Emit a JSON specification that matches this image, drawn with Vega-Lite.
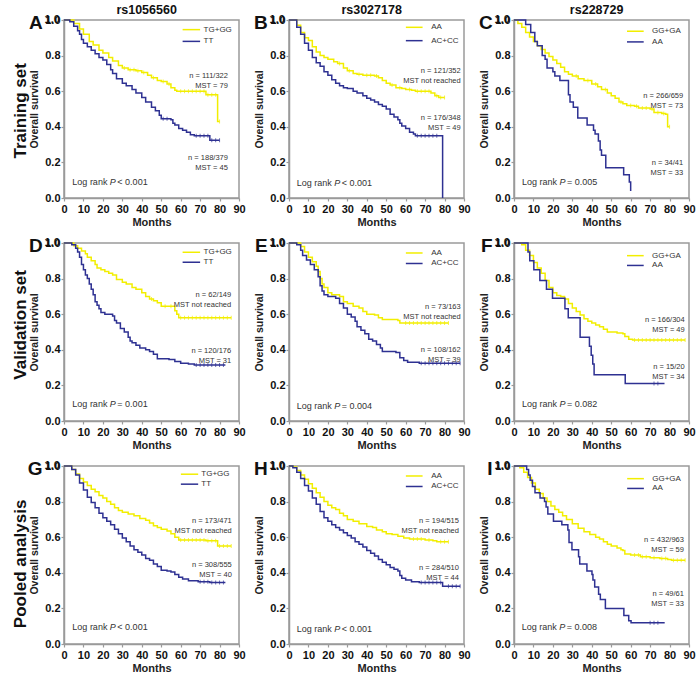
{
"$schema": "https://vega.github.io/schema/vega-lite/v6.json",
"background": "white",
"padding": {"left": 11, "top": 3, "right": 0, "bottom": 0},
"config": {
  "font": "Liberation Sans",
  "view": {"stroke": "#9a9a9a", "strokeWidth": 1.5},
  "legend": {"disable": true},
  "tick": {"orient": "vertical", "size": 4, "thickness": 1},
  "axis": {"domainColor": "#9a9a9a", "domainWidth": 1.5, "tickColor": "#9a9a9a", "tickWidth": 1.2, "tickSize": 3, "labelFont": "Liberation Sans", "labelFontSize": 11, "labelFontWeight": "bold", "labelColor": "#111", "labelPadding": 1, "titleFont": "Liberation Sans", "titleFontWeight": "bold", "titleColor": "#222", "grid": false, "labelFlush": false, "labelOverlap": false, "labelBound": false, "zindex": 1},
  "axisX": {"titlePadding": 2, "titleFontSize": 11, "labelPadding": 2, "tickCount": 10, "values": [0,10,20,30,40,50,60,70,80,90]},
  "axisY": {"titlePadding": 5, "titleFontSize": 10.5, "tickCount": 6, "values": [0,0.2,0.4,0.6,0.8,1], "format": ".1f"}
},
"datasets": {
"one": [{}],
"A": [
{"g":"TG+GG","t":0,"s":1},{"g":"TG+GG","t":3,"s":1},{"g":"TG+GG","t":5,"s":0.98},{"g":"TG+GG","t":8,"s":0.95},{"g":"TG+GG","t":10,"s":0.92},{"g":"TG+GG","t":13,"s":0.88},{"g":"TG+GG","t":15,"s":0.86},{"g":"TG+GG","t":18,"s":0.83},{"g":"TG+GG","t":20,"s":0.815},{"g":"TG+GG","t":23,"s":0.79},{"g":"TG+GG","t":25,"s":0.77},{"g":"TG+GG","t":28,"s":0.745},{"g":"TG+GG","t":30,"s":0.73},{"g":"TG+GG","t":33,"s":0.72},{"g":"TG+GG","t":37,"s":0.715},{"g":"TG+GG","t":40,"s":0.705},{"g":"TG+GG","t":43,"s":0.69},{"g":"TG+GG","t":45,"s":0.675},{"g":"TG+GG","t":48,"s":0.66},{"g":"TG+GG","t":50,"s":0.655},{"g":"TG+GG","t":53,"s":0.64},{"g":"TG+GG","t":55,"s":0.62},{"g":"TG+GG","t":57,"s":0.605},{"g":"TG+GG","t":58,"s":0.6},{"g":"TG+GG","t":73,"s":0.58},{"g":"TG+GG","t":79,"s":0.43},{"g":"TG+GG","t":80,"s":0.43},
{"g":"TT","t":0,"s":1},{"g":"TT","t":3,"s":0.99},{"g":"TT","t":5,"s":0.965},{"g":"TT","t":7,"s":0.94},{"g":"TT","t":8,"s":0.92},{"g":"TT","t":9,"s":0.89},{"g":"TT","t":10,"s":0.87},{"g":"TT","t":12,"s":0.85},{"g":"TT","t":14,"s":0.83},{"g":"TT","t":16,"s":0.81},{"g":"TT","t":18,"s":0.79},{"g":"TT","t":20,"s":0.775},{"g":"TT","t":22,"s":0.75},{"g":"TT","t":24,"s":0.72},{"g":"TT","t":25,"s":0.7},{"g":"TT","t":27,"s":0.67},{"g":"TT","t":30,"s":0.645},{"g":"TT","t":32,"s":0.63},{"g":"TT","t":35,"s":0.61},{"g":"TT","t":37,"s":0.59},{"g":"TT","t":40,"s":0.565},{"g":"TT","t":42,"s":0.54},{"g":"TT","t":45,"s":0.51},{"g":"TT","t":47,"s":0.49},{"g":"TT","t":49,"s":0.465},{"g":"TT","t":50,"s":0.445},{"g":"TT","t":55,"s":0.44},{"g":"TT","t":56,"s":0.42},{"g":"TT","t":57,"s":0.41},{"g":"TT","t":59,"s":0.39},{"g":"TT","t":61,"s":0.38},{"g":"TT","t":63,"s":0.37},{"g":"TT","t":65,"s":0.355},{"g":"TT","t":67,"s":0.35},{"g":"TT","t":75,"s":0.325},{"g":"TT","t":80,"s":0.325}
],
"Ac": [
{"g":"TG+GG","t":31,"s":0.73},{"g":"TG+GG","t":34,"s":0.72},{"g":"TG+GG","t":36,"s":0.72},{"g":"TG+GG","t":38,"s":0.715},{"g":"TG+GG","t":41,"s":0.705},{"g":"TG+GG","t":46,"s":0.675},{"g":"TG+GG","t":51,"s":0.655},{"g":"TG+GG","t":54,"s":0.64},{"g":"TG+GG","t":60,"s":0.6},{"g":"TG+GG","t":62,"s":0.6},{"g":"TG+GG","t":64,"s":0.6},{"g":"TG+GG","t":66,"s":0.6},{"g":"TG+GG","t":68,"s":0.6},{"g":"TG+GG","t":70,"s":0.6},{"g":"TG+GG","t":72,"s":0.6},{"g":"TG+GG","t":74,"s":0.58},{"g":"TG+GG","t":76,"s":0.58},{"g":"TG+GG","t":78,"s":0.58},{"g":"TG+GG","t":80,"s":0.43},
{"g":"TT","t":51,"s":0.445},{"g":"TT","t":53,"s":0.445},{"g":"TT","t":68,"s":0.35},{"g":"TT","t":70,"s":0.35},{"g":"TT","t":72,"s":0.35},{"g":"TT","t":74,"s":0.35},{"g":"TT","t":76,"s":0.325},{"g":"TT","t":78,"s":0.325},{"g":"TT","t":80,"s":0.325}
],
"B": [
{"g":"AA","t":0,"s":1},{"g":"AA","t":2,"s":1},{"g":"AA","t":4,"s":0.97},{"g":"AA","t":6,"s":0.93},{"g":"AA","t":8,"s":0.9},{"g":"AA","t":10,"s":0.885},{"g":"AA","t":12,"s":0.85},{"g":"AA","t":14,"s":0.82},{"g":"AA","t":16,"s":0.8},{"g":"AA","t":18,"s":0.79},{"g":"AA","t":20,"s":0.78},{"g":"AA","t":23,"s":0.765},{"g":"AA","t":25,"s":0.755},{"g":"AA","t":28,"s":0.73},{"g":"AA","t":30,"s":0.715},{"g":"AA","t":33,"s":0.7},{"g":"AA","t":35,"s":0.695},{"g":"AA","t":38,"s":0.69},{"g":"AA","t":44,"s":0.685},{"g":"AA","t":46,"s":0.675},{"g":"AA","t":48,"s":0.66},{"g":"AA","t":50,"s":0.645},{"g":"AA","t":52,"s":0.635},{"g":"AA","t":55,"s":0.62},{"g":"AA","t":58,"s":0.615},{"g":"AA","t":60,"s":0.61},{"g":"AA","t":63,"s":0.605},{"g":"AA","t":65,"s":0.6},{"g":"AA","t":73,"s":0.59},{"g":"AA","t":75,"s":0.575},{"g":"AA","t":77,"s":0.565},{"g":"AA","t":80,"s":0.565},
{"g":"AC+CC","t":0,"s":1},{"g":"AC+CC","t":2,"s":1},{"g":"AC+CC","t":4,"s":0.96},{"g":"AC+CC","t":6,"s":0.92},{"g":"AC+CC","t":8,"s":0.87},{"g":"AC+CC","t":10,"s":0.83},{"g":"AC+CC","t":12,"s":0.79},{"g":"AC+CC","t":14,"s":0.76},{"g":"AC+CC","t":16,"s":0.74},{"g":"AC+CC","t":18,"s":0.71},{"g":"AC+CC","t":20,"s":0.69},{"g":"AC+CC","t":22,"s":0.665},{"g":"AC+CC","t":24,"s":0.645},{"g":"AC+CC","t":26,"s":0.63},{"g":"AC+CC","t":28,"s":0.62},{"g":"AC+CC","t":30,"s":0.615},{"g":"AC+CC","t":33,"s":0.6},{"g":"AC+CC","t":35,"s":0.59},{"g":"AC+CC","t":38,"s":0.575},{"g":"AC+CC","t":40,"s":0.56},{"g":"AC+CC","t":42,"s":0.55},{"g":"AC+CC","t":44,"s":0.54},{"g":"AC+CC","t":46,"s":0.525},{"g":"AC+CC","t":48,"s":0.515},{"g":"AC+CC","t":50,"s":0.5},{"g":"AC+CC","t":52,"s":0.47},{"g":"AC+CC","t":54,"s":0.455},{"g":"AC+CC","t":56,"s":0.44},{"g":"AC+CC","t":57,"s":0.42},{"g":"AC+CC","t":58,"s":0.405},{"g":"AC+CC","t":60,"s":0.39},{"g":"AC+CC","t":62,"s":0.37},{"g":"AC+CC","t":64,"s":0.36},{"g":"AC+CC","t":65,"s":0.35},{"g":"AC+CC","t":79,"s":0}
],
"Bc": [
{"g":"AA","t":26,"s":0.755},{"g":"AA","t":31,"s":0.715},{"g":"AA","t":36,"s":0.695},{"g":"AA","t":40,"s":0.69},{"g":"AA","t":42,"s":0.69},{"g":"AA","t":45,"s":0.685},{"g":"AA","t":53,"s":0.635},{"g":"AA","t":57,"s":0.62},{"g":"AA","t":62,"s":0.61},{"g":"AA","t":66,"s":0.6},{"g":"AA","t":68,"s":0.6},{"g":"AA","t":70,"s":0.6},{"g":"AA","t":72,"s":0.6},{"g":"AA","t":76,"s":0.575},{"g":"AA","t":78,"s":0.565},{"g":"AA","t":80,"s":0.565},
{"g":"AC+CC","t":66,"s":0.35},{"g":"AC+CC","t":68,"s":0.35},{"g":"AC+CC","t":70,"s":0.35},{"g":"AC+CC","t":72,"s":0.35},{"g":"AC+CC","t":74,"s":0.35},{"g":"AC+CC","t":76,"s":0.35}
],
"C": [
{"g":"GG+GA","t":0,"s":1},{"g":"GG+GA","t":2,"s":0.98},{"g":"GG+GA","t":4,"s":0.96},{"g":"GG+GA","t":6,"s":0.93},{"g":"GG+GA","t":8,"s":0.905},{"g":"GG+GA","t":10,"s":0.88},{"g":"GG+GA","t":12,"s":0.855},{"g":"GG+GA","t":14,"s":0.835},{"g":"GG+GA","t":16,"s":0.815},{"g":"GG+GA","t":18,"s":0.795},{"g":"GG+GA","t":20,"s":0.775},{"g":"GG+GA","t":22,"s":0.755},{"g":"GG+GA","t":24,"s":0.735},{"g":"GG+GA","t":26,"s":0.71},{"g":"GG+GA","t":28,"s":0.695},{"g":"GG+GA","t":30,"s":0.685},{"g":"GG+GA","t":33,"s":0.67},{"g":"GG+GA","t":36,"s":0.66},{"g":"GG+GA","t":40,"s":0.64},{"g":"GG+GA","t":43,"s":0.625},{"g":"GG+GA","t":45,"s":0.61},{"g":"GG+GA","t":48,"s":0.59},{"g":"GG+GA","t":50,"s":0.575},{"g":"GG+GA","t":52,"s":0.56},{"g":"GG+GA","t":54,"s":0.54},{"g":"GG+GA","t":56,"s":0.53},{"g":"GG+GA","t":58,"s":0.52},{"g":"GG+GA","t":62,"s":0.515},{"g":"GG+GA","t":64,"s":0.505},{"g":"GG+GA","t":70,"s":0.5},{"g":"GG+GA","t":72,"s":0.48},{"g":"GG+GA","t":76,"s":0.475},{"g":"GG+GA","t":78,"s":0.47},{"g":"GG+GA","t":79,"s":0.4},{"g":"GG+GA","t":80,"s":0.4},
{"g":"AA","t":0,"s":1},{"g":"AA","t":6,"s":0.975},{"g":"AA","t":8.6,"s":0.93},{"g":"AA","t":10.7,"s":0.88},{"g":"AA","t":12,"s":0.855},{"g":"AA","t":14.5,"s":0.8},{"g":"AA","t":16,"s":0.78},{"g":"AA","t":17,"s":0.73},{"g":"AA","t":20,"s":0.71},{"g":"AA","t":21,"s":0.685},{"g":"AA","t":23.6,"s":0.66},{"g":"AA","t":28,"s":0.58},{"g":"AA","t":28.8,"s":0.54},{"g":"AA","t":30.5,"s":0.51},{"g":"AA","t":32.8,"s":0.45},{"g":"AA","t":37.6,"s":0.41},{"g":"AA","t":40.9,"s":0.38},{"g":"AA","t":41.7,"s":0.36},{"g":"AA","t":43.4,"s":0.32},{"g":"AA","t":44.3,"s":0.27},{"g":"AA","t":45,"s":0.24},{"g":"AA","t":47.2,"s":0.17},{"g":"AA","t":56.4,"s":0.13},{"g":"AA","t":59.3,"s":0.09},{"g":"AA","t":60,"s":0.04}
],
"Cc": [
{"g":"GG+GA","t":32,"s":0.685},{"g":"GG+GA","t":38,"s":0.66},{"g":"GG+GA","t":42,"s":0.64},{"g":"GG+GA","t":47,"s":0.61},{"g":"GG+GA","t":55,"s":0.54},{"g":"GG+GA","t":60,"s":0.52},{"g":"GG+GA","t":63,"s":0.515},{"g":"GG+GA","t":66,"s":0.505},{"g":"GG+GA","t":68,"s":0.505},{"g":"GG+GA","t":71,"s":0.5},{"g":"GG+GA","t":74,"s":0.48},{"g":"GG+GA","t":77,"s":0.475},{"g":"GG+GA","t":80,"s":0.4}
],
"D": [
{"g":"TG+GG","t":0,"s":1},{"g":"TG+GG","t":3,"s":1},{"g":"TG+GG","t":5,"s":0.985},{"g":"TG+GG","t":7,"s":0.97},{"g":"TG+GG","t":9,"s":0.955},{"g":"TG+GG","t":11,"s":0.94},{"g":"TG+GG","t":12,"s":0.92},{"g":"TG+GG","t":14,"s":0.9},{"g":"TG+GG","t":16,"s":0.88},{"g":"TG+GG","t":17,"s":0.86},{"g":"TG+GG","t":19,"s":0.85},{"g":"TG+GG","t":21,"s":0.84},{"g":"TG+GG","t":23,"s":0.83},{"g":"TG+GG","t":25,"s":0.82},{"g":"TG+GG","t":27,"s":0.795},{"g":"TG+GG","t":30,"s":0.78},{"g":"TG+GG","t":32,"s":0.77},{"g":"TG+GG","t":35,"s":0.75},{"g":"TG+GG","t":37,"s":0.74},{"g":"TG+GG","t":40,"s":0.72},{"g":"TG+GG","t":42,"s":0.7},{"g":"TG+GG","t":44,"s":0.685},{"g":"TG+GG","t":46,"s":0.675},{"g":"TG+GG","t":48,"s":0.665},{"g":"TG+GG","t":50,"s":0.645},{"g":"TG+GG","t":57,"s":0.62},{"g":"TG+GG","t":58,"s":0.6},{"g":"TG+GG","t":59,"s":0.58},{"g":"TG+GG","t":86,"s":0.58},
{"g":"TT","t":0,"s":1},{"g":"TT","t":4,"s":0.99},{"g":"TT","t":6,"s":0.97},{"g":"TT","t":7,"s":0.95},{"g":"TT","t":8,"s":0.92},{"g":"TT","t":9,"s":0.88},{"g":"TT","t":10,"s":0.85},{"g":"TT","t":11,"s":0.82},{"g":"TT","t":12,"s":0.8},{"g":"TT","t":13,"s":0.77},{"g":"TT","t":14,"s":0.74},{"g":"TT","t":15,"s":0.71},{"g":"TT","t":16,"s":0.67},{"g":"TT","t":17,"s":0.65},{"g":"TT","t":18,"s":0.63},{"g":"TT","t":19,"s":0.61},{"g":"TT","t":21,"s":0.6},{"g":"TT","t":25,"s":0.59},{"g":"TT","t":26,"s":0.565},{"g":"TT","t":27,"s":0.55},{"g":"TT","t":29,"s":0.52},{"g":"TT","t":31,"s":0.5},{"g":"TT","t":33,"s":0.47},{"g":"TT","t":34,"s":0.45},{"g":"TT","t":35,"s":0.44},{"g":"TT","t":37,"s":0.425},{"g":"TT","t":39,"s":0.41},{"g":"TT","t":42,"s":0.4},{"g":"TT","t":44,"s":0.39},{"g":"TT","t":46,"s":0.375},{"g":"TT","t":48,"s":0.35},{"g":"TT","t":54,"s":0.345},{"g":"TT","t":57,"s":0.335},{"g":"TT","t":60,"s":0.325},{"g":"TT","t":64,"s":0.32},{"g":"TT","t":67,"s":0.315},{"g":"TT","t":83,"s":0.315}
],
"Dc": [
{"g":"TG+GG","t":45,"s":0.685},{"g":"TG+GG","t":52,"s":0.645},{"g":"TG+GG","t":55,"s":0.645},{"g":"TG+GG","t":60,"s":0.58},{"g":"TG+GG","t":62,"s":0.58},{"g":"TG+GG","t":64,"s":0.58},{"g":"TG+GG","t":66,"s":0.58},{"g":"TG+GG","t":68,"s":0.58},{"g":"TG+GG","t":70,"s":0.58},{"g":"TG+GG","t":72,"s":0.58},{"g":"TG+GG","t":74,"s":0.58},{"g":"TG+GG","t":76,"s":0.58},{"g":"TG+GG","t":78,"s":0.58},{"g":"TG+GG","t":80,"s":0.58},{"g":"TG+GG","t":82,"s":0.58},{"g":"TG+GG","t":84,"s":0.58},{"g":"TG+GG","t":86,"s":0.58},
{"g":"TT","t":68,"s":0.315},{"g":"TT","t":70,"s":0.315},{"g":"TT","t":72,"s":0.315},{"g":"TT","t":74,"s":0.315},{"g":"TT","t":76,"s":0.315},{"g":"TT","t":78,"s":0.315},{"g":"TT","t":80,"s":0.315},{"g":"TT","t":82,"s":0.315}
],
"E": [
{"g":"AA","t":0,"s":1},{"g":"AA","t":5,"s":1},{"g":"AA","t":6,"s":0.98},{"g":"AA","t":8,"s":0.95},{"g":"AA","t":10,"s":0.92},{"g":"AA","t":12,"s":0.895},{"g":"AA","t":14,"s":0.87},{"g":"AA","t":15,"s":0.84},{"g":"AA","t":16,"s":0.8},{"g":"AA","t":17,"s":0.77},{"g":"AA","t":18,"s":0.75},{"g":"AA","t":20,"s":0.72},{"g":"AA","t":22,"s":0.71},{"g":"AA","t":26,"s":0.7},{"g":"AA","t":28,"s":0.67},{"g":"AA","t":30,"s":0.66},{"g":"AA","t":33,"s":0.645},{"g":"AA","t":36,"s":0.635},{"g":"AA","t":38,"s":0.615},{"g":"AA","t":40,"s":0.6},{"g":"AA","t":44,"s":0.595},{"g":"AA","t":46,"s":0.58},{"g":"AA","t":48,"s":0.57},{"g":"AA","t":56,"s":0.565},{"g":"AA","t":57,"s":0.55},{"g":"AA","t":82,"s":0.55},
{"g":"AC+CC","t":0,"s":1},{"g":"AC+CC","t":4,"s":0.99},{"g":"AC+CC","t":6,"s":0.96},{"g":"AC+CC","t":7,"s":0.93},{"g":"AC+CC","t":9,"s":0.905},{"g":"AC+CC","t":11,"s":0.88},{"g":"AC+CC","t":13,"s":0.85},{"g":"AC+CC","t":15,"s":0.81},{"g":"AC+CC","t":16,"s":0.76},{"g":"AC+CC","t":17,"s":0.73},{"g":"AC+CC","t":18,"s":0.71},{"g":"AC+CC","t":20,"s":0.7},{"g":"AC+CC","t":24,"s":0.69},{"g":"AC+CC","t":26,"s":0.66},{"g":"AC+CC","t":28,"s":0.635},{"g":"AC+CC","t":30,"s":0.6},{"g":"AC+CC","t":32,"s":0.585},{"g":"AC+CC","t":34,"s":0.56},{"g":"AC+CC","t":35,"s":0.53},{"g":"AC+CC","t":37,"s":0.51},{"g":"AC+CC","t":39,"s":0.49},{"g":"AC+CC","t":41,"s":0.46},{"g":"AC+CC","t":43,"s":0.45},{"g":"AC+CC","t":45,"s":0.43},{"g":"AC+CC","t":47,"s":0.41},{"g":"AC+CC","t":48,"s":0.39},{"g":"AC+CC","t":55,"s":0.385},{"g":"AC+CC","t":57,"s":0.355},{"g":"AC+CC","t":59,"s":0.34},{"g":"AC+CC","t":61,"s":0.33},{"g":"AC+CC","t":67,"s":0.325},{"g":"AC+CC","t":88,"s":0.325}
],
"Ec": [
{"g":"AA","t":60,"s":0.55},{"g":"AA","t":62,"s":0.55},{"g":"AA","t":64,"s":0.55},{"g":"AA","t":66,"s":0.55},{"g":"AA","t":68,"s":0.55},{"g":"AA","t":70,"s":0.55},{"g":"AA","t":72,"s":0.55},{"g":"AA","t":74,"s":0.55},{"g":"AA","t":76,"s":0.55},{"g":"AA","t":78,"s":0.55},{"g":"AA","t":80,"s":0.55},{"g":"AA","t":82,"s":0.55},
{"g":"AC+CC","t":68,"s":0.325},{"g":"AC+CC","t":70,"s":0.325},{"g":"AC+CC","t":72,"s":0.325},{"g":"AC+CC","t":74,"s":0.325},{"g":"AC+CC","t":76,"s":0.325},{"g":"AC+CC","t":78,"s":0.325},{"g":"AC+CC","t":80,"s":0.325},{"g":"AC+CC","t":82,"s":0.325},{"g":"AC+CC","t":84,"s":0.325},{"g":"AC+CC","t":86,"s":0.325},{"g":"AC+CC","t":88,"s":0.325}
],
"F": [
{"g":"GG+GA","t":0,"s":1},{"g":"GG+GA","t":4,"s":0.99},{"g":"GG+GA","t":6,"s":0.96},{"g":"GG+GA","t":8,"s":0.93},{"g":"GG+GA","t":10,"s":0.89},{"g":"GG+GA","t":12,"s":0.86},{"g":"GG+GA","t":14,"s":0.83},{"g":"GG+GA","t":16,"s":0.79},{"g":"GG+GA","t":18,"s":0.75},{"g":"GG+GA","t":20,"s":0.72},{"g":"GG+GA","t":22,"s":0.705},{"g":"GG+GA","t":24,"s":0.7},{"g":"GG+GA","t":26,"s":0.685},{"g":"GG+GA","t":28,"s":0.66},{"g":"GG+GA","t":30,"s":0.635},{"g":"GG+GA","t":32,"s":0.615},{"g":"GG+GA","t":34,"s":0.595},{"g":"GG+GA","t":36,"s":0.575},{"g":"GG+GA","t":38,"s":0.56},{"g":"GG+GA","t":40,"s":0.55},{"g":"GG+GA","t":42,"s":0.54},{"g":"GG+GA","t":44,"s":0.53},{"g":"GG+GA","t":46,"s":0.515},{"g":"GG+GA","t":48,"s":0.5},{"g":"GG+GA","t":53,"s":0.495},{"g":"GG+GA","t":56,"s":0.49},{"g":"GG+GA","t":57,"s":0.475},{"g":"GG+GA","t":59,"s":0.46},{"g":"GG+GA","t":61,"s":0.455},{"g":"GG+GA","t":88,"s":0.455},
{"g":"AA","t":0,"s":1},{"g":"AA","t":7.2,"s":0.95},{"g":"AA","t":8.1,"s":0.9},{"g":"AA","t":10.2,"s":0.85},{"g":"AA","t":13.3,"s":0.79},{"g":"AA","t":16.7,"s":0.74},{"g":"AA","t":19.8,"s":0.69},{"g":"AA","t":26.2,"s":0.63},{"g":"AA","t":27.9,"s":0.58},{"g":"AA","t":34,"s":0.47},{"g":"AA","t":38.8,"s":0.42},{"g":"AA","t":39.7,"s":0.37},{"g":"AA","t":40.5,"s":0.32},{"g":"AA","t":41.2,"s":0.26},{"g":"AA","t":57.2,"s":0.21},{"g":"AA","t":77.4,"s":0.21}
],
"Fc": [
{"g":"GG+GA","t":62,"s":0.455},{"g":"GG+GA","t":64,"s":0.455},{"g":"GG+GA","t":66,"s":0.455},{"g":"GG+GA","t":68,"s":0.455},{"g":"GG+GA","t":70,"s":0.455},{"g":"GG+GA","t":72,"s":0.455},{"g":"GG+GA","t":74,"s":0.455},{"g":"GG+GA","t":76,"s":0.455},{"g":"GG+GA","t":78,"s":0.455},{"g":"GG+GA","t":80,"s":0.455},{"g":"GG+GA","t":82,"s":0.455},{"g":"GG+GA","t":84,"s":0.455},{"g":"GG+GA","t":86,"s":0.455},{"g":"GG+GA","t":88,"s":0.455},
{"g":"AA","t":72,"s":0.21},{"g":"AA","t":74,"s":0.21}
],
"G": [
{"g":"TG+GG","t":0,"s":1},{"g":"TG+GG","t":2,"s":1},{"g":"TG+GG","t":4,"s":0.98},{"g":"TG+GG","t":6,"s":0.955},{"g":"TG+GG","t":8,"s":0.93},{"g":"TG+GG","t":10,"s":0.91},{"g":"TG+GG","t":12,"s":0.89},{"g":"TG+GG","t":14,"s":0.87},{"g":"TG+GG","t":16,"s":0.855},{"g":"TG+GG","t":18,"s":0.835},{"g":"TG+GG","t":20,"s":0.82},{"g":"TG+GG","t":22,"s":0.8},{"g":"TG+GG","t":24,"s":0.785},{"g":"TG+GG","t":26,"s":0.765},{"g":"TG+GG","t":28,"s":0.75},{"g":"TG+GG","t":30,"s":0.74},{"g":"TG+GG","t":33,"s":0.73},{"g":"TG+GG","t":36,"s":0.72},{"g":"TG+GG","t":39,"s":0.705},{"g":"TG+GG","t":42,"s":0.695},{"g":"TG+GG","t":44,"s":0.68},{"g":"TG+GG","t":46,"s":0.665},{"g":"TG+GG","t":48,"s":0.655},{"g":"TG+GG","t":50,"s":0.645},{"g":"TG+GG","t":53,"s":0.635},{"g":"TG+GG","t":55,"s":0.62},{"g":"TG+GG","t":57,"s":0.6},{"g":"TG+GG","t":59,"s":0.585},{"g":"TG+GG","t":73,"s":0.58},{"g":"TG+GG","t":79,"s":0.55},{"g":"TG+GG","t":86,"s":0.55},
{"g":"TT","t":0,"s":1},{"g":"TT","t":2,"s":1},{"g":"TT","t":4,"s":0.98},{"g":"TT","t":6,"s":0.95},{"g":"TT","t":8,"s":0.905},{"g":"TT","t":10,"s":0.865},{"g":"TT","t":12,"s":0.825},{"g":"TT","t":14,"s":0.795},{"g":"TT","t":16,"s":0.765},{"g":"TT","t":18,"s":0.735},{"g":"TT","t":20,"s":0.71},{"g":"TT","t":22,"s":0.69},{"g":"TT","t":24,"s":0.67},{"g":"TT","t":26,"s":0.645},{"g":"TT","t":28,"s":0.62},{"g":"TT","t":30,"s":0.595},{"g":"TT","t":32,"s":0.575},{"g":"TT","t":34,"s":0.55},{"g":"TT","t":36,"s":0.53},{"g":"TT","t":38,"s":0.515},{"g":"TT","t":40,"s":0.5},{"g":"TT","t":42,"s":0.48},{"g":"TT","t":44,"s":0.47},{"g":"TT","t":46,"s":0.45},{"g":"TT","t":48,"s":0.435},{"g":"TT","t":50,"s":0.415},{"g":"TT","t":53,"s":0.41},{"g":"TT","t":55,"s":0.405},{"g":"TT","t":57,"s":0.39},{"g":"TT","t":59,"s":0.375},{"g":"TT","t":61,"s":0.365},{"g":"TT","t":64,"s":0.355},{"g":"TT","t":69,"s":0.35},{"g":"TT","t":75,"s":0.345},{"g":"TT","t":83,"s":0.345}
],
"Gc": [
{"g":"TG+GG","t":60,"s":0.585},{"g":"TG+GG","t":62,"s":0.585},{"g":"TG+GG","t":64,"s":0.585},{"g":"TG+GG","t":66,"s":0.585},{"g":"TG+GG","t":68,"s":0.585},{"g":"TG+GG","t":70,"s":0.585},{"g":"TG+GG","t":72,"s":0.585},{"g":"TG+GG","t":74,"s":0.58},{"g":"TG+GG","t":76,"s":0.58},{"g":"TG+GG","t":78,"s":0.58},{"g":"TG+GG","t":80,"s":0.55},{"g":"TG+GG","t":82,"s":0.55},{"g":"TG+GG","t":84,"s":0.55},{"g":"TG+GG","t":86,"s":0.55},
{"g":"TT","t":70,"s":0.35},{"g":"TT","t":72,"s":0.35},{"g":"TT","t":74,"s":0.35},{"g":"TT","t":76,"s":0.345},{"g":"TT","t":78,"s":0.345},{"g":"TT","t":80,"s":0.345},{"g":"TT","t":82,"s":0.345}
],
"H": [
{"g":"AA","t":0,"s":1},{"g":"AA","t":2,"s":0.995},{"g":"AA","t":4,"s":0.975},{"g":"AA","t":6,"s":0.95},{"g":"AA","t":8,"s":0.925},{"g":"AA","t":10,"s":0.9},{"g":"AA","t":12,"s":0.875},{"g":"AA","t":14,"s":0.85},{"g":"AA","t":16,"s":0.825},{"g":"AA","t":18,"s":0.8},{"g":"AA","t":20,"s":0.78},{"g":"AA","t":22,"s":0.765},{"g":"AA","t":24,"s":0.755},{"g":"AA","t":26,"s":0.735},{"g":"AA","t":28,"s":0.72},{"g":"AA","t":30,"s":0.7},{"g":"AA","t":33,"s":0.69},{"g":"AA","t":36,"s":0.675},{"g":"AA","t":40,"s":0.66},{"g":"AA","t":43,"s":0.655},{"g":"AA","t":45,"s":0.64},{"g":"AA","t":48,"s":0.63},{"g":"AA","t":50,"s":0.62},{"g":"AA","t":53,"s":0.615},{"g":"AA","t":56,"s":0.605},{"g":"AA","t":59,"s":0.595},{"g":"AA","t":62,"s":0.59},{"g":"AA","t":70,"s":0.585},{"g":"AA","t":74,"s":0.58},{"g":"AA","t":76,"s":0.575},{"g":"AA","t":82,"s":0.575},
{"g":"AC+CC","t":0,"s":1},{"g":"AC+CC","t":2,"s":0.99},{"g":"AC+CC","t":4,"s":0.965},{"g":"AC+CC","t":6,"s":0.93},{"g":"AC+CC","t":8,"s":0.89},{"g":"AC+CC","t":10,"s":0.86},{"g":"AC+CC","t":12,"s":0.82},{"g":"AC+CC","t":14,"s":0.785},{"g":"AC+CC","t":16,"s":0.745},{"g":"AC+CC","t":18,"s":0.71},{"g":"AC+CC","t":20,"s":0.69},{"g":"AC+CC","t":22,"s":0.67},{"g":"AC+CC","t":24,"s":0.655},{"g":"AC+CC","t":26,"s":0.64},{"g":"AC+CC","t":28,"s":0.625},{"g":"AC+CC","t":30,"s":0.61},{"g":"AC+CC","t":32,"s":0.595},{"g":"AC+CC","t":34,"s":0.575},{"g":"AC+CC","t":36,"s":0.56},{"g":"AC+CC","t":38,"s":0.545},{"g":"AC+CC","t":40,"s":0.525},{"g":"AC+CC","t":42,"s":0.51},{"g":"AC+CC","t":44,"s":0.495},{"g":"AC+CC","t":46,"s":0.475},{"g":"AC+CC","t":48,"s":0.46},{"g":"AC+CC","t":50,"s":0.445},{"g":"AC+CC","t":52,"s":0.43},{"g":"AC+CC","t":54,"s":0.42},{"g":"AC+CC","t":56,"s":0.41},{"g":"AC+CC","t":57,"s":0.385},{"g":"AC+CC","t":58,"s":0.37},{"g":"AC+CC","t":60,"s":0.36},{"g":"AC+CC","t":63,"s":0.35},{"g":"AC+CC","t":67,"s":0.345},{"g":"AC+CC","t":79,"s":0.325},{"g":"AC+CC","t":88,"s":0.325}
],
"Hc": [
{"g":"AA","t":64,"s":0.59},{"g":"AA","t":66,"s":0.59},{"g":"AA","t":68,"s":0.59},{"g":"AA","t":72,"s":0.585},{"g":"AA","t":78,"s":0.575},{"g":"AA","t":80,"s":0.575},{"g":"AA","t":82,"s":0.575},
{"g":"AC+CC","t":68,"s":0.345},{"g":"AC+CC","t":70,"s":0.345},{"g":"AC+CC","t":72,"s":0.345},{"g":"AC+CC","t":74,"s":0.345},{"g":"AC+CC","t":76,"s":0.345},{"g":"AC+CC","t":78,"s":0.345},{"g":"AC+CC","t":82,"s":0.325},{"g":"AC+CC","t":84,"s":0.325},{"g":"AC+CC","t":86,"s":0.325},{"g":"AC+CC","t":88,"s":0.325}
],
"I": [
{"g":"GG+GA","t":0,"s":1},{"g":"GG+GA","t":3,"s":0.99},{"g":"GG+GA","t":5,"s":0.965},{"g":"GG+GA","t":7,"s":0.935},{"g":"GG+GA","t":9,"s":0.905},{"g":"GG+GA","t":11,"s":0.87},{"g":"GG+GA","t":13,"s":0.845},{"g":"GG+GA","t":15,"s":0.82},{"g":"GG+GA","t":17,"s":0.8},{"g":"GG+GA","t":19,"s":0.775},{"g":"GG+GA","t":21,"s":0.755},{"g":"GG+GA","t":23,"s":0.74},{"g":"GG+GA","t":25,"s":0.72},{"g":"GG+GA","t":27,"s":0.7},{"g":"GG+GA","t":30,"s":0.675},{"g":"GG+GA","t":33,"s":0.65},{"g":"GG+GA","t":36,"s":0.63},{"g":"GG+GA","t":39,"s":0.615},{"g":"GG+GA","t":42,"s":0.6},{"g":"GG+GA","t":44,"s":0.59},{"g":"GG+GA","t":46,"s":0.575},{"g":"GG+GA","t":48,"s":0.56},{"g":"GG+GA","t":50,"s":0.55},{"g":"GG+GA","t":53,"s":0.54},{"g":"GG+GA","t":55,"s":0.53},{"g":"GG+GA","t":56,"s":0.525},{"g":"GG+GA","t":57,"s":0.505},{"g":"GG+GA","t":60,"s":0.5},{"g":"GG+GA","t":65,"s":0.49},{"g":"GG+GA","t":70,"s":0.485},{"g":"GG+GA","t":75,"s":0.48},{"g":"GG+GA","t":79,"s":0.475},{"g":"GG+GA","t":81,"s":0.47},{"g":"GG+GA","t":88,"s":0.47},
{"g":"AA","t":0,"s":1},{"g":"AA","t":6.5,"s":0.98},{"g":"AA","t":7.5,"s":0.95},{"g":"AA","t":8.3,"s":0.92},{"g":"AA","t":9.5,"s":0.885},{"g":"AA","t":10.8,"s":0.85},{"g":"AA","t":13.4,"s":0.82},{"g":"AA","t":15.7,"s":0.8},{"g":"AA","t":16.5,"s":0.77},{"g":"AA","t":17.4,"s":0.73},{"g":"AA","t":20.3,"s":0.69},{"g":"AA","t":24.6,"s":0.67},{"g":"AA","t":27.7,"s":0.64},{"g":"AA","t":28.3,"s":0.57},{"g":"AA","t":29.8,"s":0.53},{"g":"AA","t":33.2,"s":0.49},{"g":"AA","t":33.8,"s":0.45},{"g":"AA","t":37.5,"s":0.41},{"g":"AA","t":40.1,"s":0.39},{"g":"AA","t":40.6,"s":0.36},{"g":"AA","t":41.5,"s":0.32},{"g":"AA","t":43.5,"s":0.28},{"g":"AA","t":44.4,"s":0.25},{"g":"AA","t":47,"s":0.2},{"g":"AA","t":56.5,"s":0.16},{"g":"AA","t":59,"s":0.13},{"g":"AA","t":60.2,"s":0.12},{"g":"AA","t":77.5,"s":0.12}
],
"Ic": [
{"g":"GG+GA","t":62,"s":0.5},{"g":"GG+GA","t":64,"s":0.5},{"g":"GG+GA","t":66,"s":0.49},{"g":"GG+GA","t":68,"s":0.49},{"g":"GG+GA","t":72,"s":0.485},{"g":"GG+GA","t":76,"s":0.48},{"g":"GG+GA","t":78,"s":0.48},{"g":"GG+GA","t":82,"s":0.47},{"g":"GG+GA","t":84,"s":0.47},{"g":"GG+GA","t":86,"s":0.47},{"g":"GG+GA","t":88,"s":0.47},
{"g":"AA","t":70,"s":0.12},{"g":"AA","t":72,"s":0.12},{"g":"AA","t":74,"s":0.12}
]
},
"columns": 3,
"spacing": {"row": 45, "column": 50},
"bounds": "flush",
"resolve": {"scale": {"color": "independent"}},
"concat": [
{"width": 175, "height": 178,
 "layer": [
  {"data": {"name": "A"}, "mark": {"type": "line", "interpolate": "step-after", "strokeWidth": 1.5},
   "encoding": {"x": {"field": "t", "type": "quantitative", "scale": {"domain": [0, 90]}, "axis": {"title": "Months"}},
    "y": {"field": "s", "type": "quantitative", "scale": {"domain": [0, 1.0001], "nice": false}, "axis": {"title": "Overall survival"}},
    "color": {"field": "g", "type": "nominal", "scale": {"domain": ["TG+GG","TT"], "range": ["#f2ee00","#2e3192"]}}}},
  {"data": {"name": "Ac"}, "mark": "tick", "encoding": {"x": {"field": "t", "type": "quantitative"}, "y": {"field": "s", "type": "quantitative"}, "color": {"field": "g", "type": "nominal"}}},
  {"data": {"name": "one"}, "mark": {"type": "rule", "strokeWidth": 1.5}, "encoding": {"x": {"datum": 61}, "x2": {"datum": 70}, "y": {"datum": 0.946}, "color": {"datum": "TG+GG"}}},
  {"data": {"name": "one"}, "mark": {"type": "rule", "strokeWidth": 1.5}, "encoding": {"x": {"datum": 61}, "x2": {"datum": 70}, "y": {"datum": 0.88}, "color": {"datum": "TT"}}},
  {"data": {"name": "one"}, "mark": {"type": "text", "fontSize": 8, "align": "left", "baseline": "middle", "color": "#333"}, "encoding": {"x": {"datum": 71.8}, "y": {"datum": 0.946}, "text": {"value": "TG+GG"}}},
  {"data": {"name": "one"}, "mark": {"type": "text", "fontSize": 8, "align": "left", "baseline": "middle", "color": "#333"}, "encoding": {"x": {"datum": 71.8}, "y": {"datum": 0.88}, "text": {"value": "TT"}}},
  {"data": {"name": "one"}, "mark": {"type": "text", "fontSize": 7.5, "align": "right", "baseline": "middle", "lineHeight": 10, "color": "#333"}, "encoding": {"x": {"datum": 84.3}, "y": {"datum": 0.686}, "text": {"value": ["n = 111/322", "MST = 79"]}}},
  {"data": {"name": "one"}, "mark": {"type": "text", "fontSize": 7.5, "align": "right", "baseline": "middle", "lineHeight": 10, "color": "#333"}, "encoding": {"x": {"datum": 84.3}, "y": {"datum": 0.225}, "text": {"value": ["n = 188/379", "MST = 45"]}}},
  {"data": {"name": "one"}, "mark": {"type": "text", "fontSize": 9, "align": "left", "baseline": "middle", "color": "#333"}, "encoding": {"x": {"datum": 4.3}, "y": {"datum": 0.088}, "text": {"value": "Log rank"}}},
  {"data": {"name": "one"}, "mark": {"type": "text", "fontSize": 9, "fontStyle": "italic", "align": "left", "baseline": "middle", "color": "#333", "dx": 37.5}, "encoding": {"x": {"datum": 4.3}, "y": {"datum": 0.088}, "text": {"value": "P"}}},
  {"data": {"name": "one"}, "mark": {"type": "text", "fontSize": 9, "align": "left", "baseline": "middle", "color": "#333", "dx": 45}, "encoding": {"x": {"datum": 4.3}, "y": {"datum": 0.088}, "text": {"value": "< 0.001"}}},
  {"data": {"name": "one"}, "mark": {"type": "text", "fontSize": 11, "fontWeight": "bold", "color": "#111", "align": "right", "baseline": "middle"}, "encoding": {"x": {"datum": -2.1}, "y": {"datum": 1}, "text": {"value": "1.0"}}},
  {"data": {"name": "one"}, "mark": {"type": "text", "fontSize": 12.5, "fontWeight": "bold", "color": "#111", "align": "center", "baseline": "middle"}, "encoding": {"x": {"datum": 42.5}, "y": {"datum": 1.056}, "text": {"value": "rs1056560"}}},
  {"data": {"name": "one"}, "mark": {"type": "text", "fontSize": 19, "fontWeight": "bold", "color": "#111", "align": "right", "baseline": "middle"}, "encoding": {"x": {"datum": -11}, "y": {"datum": 0.985}, "text": {"value": "A"}}},
  {"data": {"name": "one"}, "mark": {"type": "text", "angle": 270, "fontSize": 17, "fontWeight": "bold", "color": "#111", "align": "center", "baseline": "middle"}, "encoding": {"x": {"datum": -22}, "y": {"datum": 0.49}, "text": {"value": "Training set"}}}
 ]},
{"width": 175, "height": 178,
 "layer": [
  {"data": {"name": "B"}, "mark": {"type": "line", "interpolate": "step-after", "strokeWidth": 1.5},
   "encoding": {"x": {"field": "t", "type": "quantitative", "scale": {"domain": [0, 90]}, "axis": {"title": "Months"}},
    "y": {"field": "s", "type": "quantitative", "scale": {"domain": [0, 1.0001], "nice": false}, "axis": {"title": "Overall survival"}},
    "color": {"field": "g", "type": "nominal", "scale": {"domain": ["AA","AC+CC"], "range": ["#f2ee00","#2e3192"]}}}},
  {"data": {"name": "Bc"}, "mark": "tick", "encoding": {"x": {"field": "t", "type": "quantitative"}, "y": {"field": "s", "type": "quantitative"}, "color": {"field": "g", "type": "nominal"}}},
  {"data": {"name": "one"}, "mark": {"type": "rule", "strokeWidth": 1.5}, "encoding": {"x": {"datum": 60.1}, "x2": {"datum": 68.7}, "y": {"datum": 0.959}, "color": {"datum": "AA"}}},
  {"data": {"name": "one"}, "mark": {"type": "rule", "strokeWidth": 1.5}, "encoding": {"x": {"datum": 60.1}, "x2": {"datum": 68.7}, "y": {"datum": 0.884}, "color": {"datum": "AC+CC"}}},
  {"data": {"name": "one"}, "mark": {"type": "text", "fontSize": 8, "align": "left", "baseline": "middle", "color": "#333"}, "encoding": {"x": {"datum": 73.1}, "y": {"datum": 0.959}, "text": {"value": "AA"}}},
  {"data": {"name": "one"}, "mark": {"type": "text", "fontSize": 8, "align": "left", "baseline": "middle", "color": "#333"}, "encoding": {"x": {"datum": 73.1}, "y": {"datum": 0.884}, "text": {"value": "AC+CC"}}},
  {"data": {"name": "one"}, "mark": {"type": "text", "fontSize": 7.5, "align": "right", "baseline": "middle", "lineHeight": 10, "color": "#333"}, "encoding": {"x": {"datum": 88.3}, "y": {"datum": 0.715}, "text": {"value": ["n = 121/352", "MST not reached"]}}},
  {"data": {"name": "one"}, "mark": {"type": "text", "fontSize": 7.5, "align": "right", "baseline": "middle", "lineHeight": 10, "color": "#333"}, "encoding": {"x": {"datum": 88.3}, "y": {"datum": 0.452}, "text": {"value": ["n = 176/348", "MST = 49"]}}},
  {"data": {"name": "one"}, "mark": {"type": "text", "fontSize": 9, "align": "left", "baseline": "middle", "color": "#333"}, "encoding": {"x": {"datum": 4}, "y": {"datum": 0.082}, "text": {"value": "Log rank"}}},
  {"data": {"name": "one"}, "mark": {"type": "text", "fontSize": 9, "fontStyle": "italic", "align": "left", "baseline": "middle", "color": "#333", "dx": 37.5}, "encoding": {"x": {"datum": 4}, "y": {"datum": 0.082}, "text": {"value": "P"}}},
  {"data": {"name": "one"}, "mark": {"type": "text", "fontSize": 9, "align": "left", "baseline": "middle", "color": "#333", "dx": 45}, "encoding": {"x": {"datum": 4}, "y": {"datum": 0.082}, "text": {"value": "< 0.001"}}},
  {"data": {"name": "one"}, "mark": {"type": "text", "fontSize": 11, "fontWeight": "bold", "color": "#111", "align": "right", "baseline": "middle"}, "encoding": {"x": {"datum": -2.1}, "y": {"datum": 1}, "text": {"value": "1.0"}}},
  {"data": {"name": "one"}, "mark": {"type": "text", "fontSize": 12.5, "fontWeight": "bold", "color": "#111", "align": "center", "baseline": "middle"}, "encoding": {"x": {"datum": 42.5}, "y": {"datum": 1.056}, "text": {"value": "rs3027178"}}},
  {"data": {"name": "one"}, "mark": {"type": "text", "fontSize": 19, "fontWeight": "bold", "color": "#111", "align": "right", "baseline": "middle"}, "encoding": {"x": {"datum": -11}, "y": {"datum": 0.985}, "text": {"value": "B"}}}
 ]},
{"width": 175, "height": 178,
 "layer": [
  {"data": {"name": "C"}, "mark": {"type": "line", "interpolate": "step-after", "strokeWidth": 1.5},
   "encoding": {"x": {"field": "t", "type": "quantitative", "scale": {"domain": [0, 90]}, "axis": {"title": "Months"}},
    "y": {"field": "s", "type": "quantitative", "scale": {"domain": [0, 1.0001], "nice": false}, "axis": {"title": "Overall survival"}},
    "color": {"field": "g", "type": "nominal", "scale": {"domain": ["GG+GA","AA"], "range": ["#f2ee00","#2e3192"]}}}},
  {"data": {"name": "Cc"}, "mark": "tick", "encoding": {"x": {"field": "t", "type": "quantitative"}, "y": {"field": "s", "type": "quantitative"}, "color": {"field": "g", "type": "nominal"}}},
  {"data": {"name": "one"}, "mark": {"type": "rule", "strokeWidth": 1.5}, "encoding": {"x": {"datum": 58.1}, "x2": {"datum": 66.7}, "y": {"datum": 0.937}, "color": {"datum": "GG+GA"}}},
  {"data": {"name": "one"}, "mark": {"type": "rule", "strokeWidth": 1.5}, "encoding": {"x": {"datum": 58.1}, "x2": {"datum": 66.7}, "y": {"datum": 0.877}, "color": {"datum": "AA"}}},
  {"data": {"name": "one"}, "mark": {"type": "text", "fontSize": 8, "align": "left", "baseline": "middle", "color": "#333"}, "encoding": {"x": {"datum": 71}, "y": {"datum": 0.937}, "text": {"value": "GG+GA"}}},
  {"data": {"name": "one"}, "mark": {"type": "text", "fontSize": 8, "align": "left", "baseline": "middle", "color": "#333"}, "encoding": {"x": {"datum": 71}, "y": {"datum": 0.877}, "text": {"value": "AA"}}},
  {"data": {"name": "one"}, "mark": {"type": "text", "fontSize": 7.5, "align": "right", "baseline": "middle", "lineHeight": 10, "color": "#333"}, "encoding": {"x": {"datum": 87}, "y": {"datum": 0.575}, "text": {"value": ["n = 266/659", "MST = 73"]}}},
  {"data": {"name": "one"}, "mark": {"type": "text", "fontSize": 7.5, "align": "right", "baseline": "middle", "lineHeight": 10, "color": "#333"}, "encoding": {"x": {"datum": 87}, "y": {"datum": 0.198}, "text": {"value": ["n = 34/41", "MST = 33"]}}},
  {"data": {"name": "one"}, "mark": {"type": "text", "fontSize": 9, "align": "left", "baseline": "middle", "color": "#333"}, "encoding": {"x": {"datum": 4.1}, "y": {"datum": 0.088}, "text": {"value": "Log rank"}}},
  {"data": {"name": "one"}, "mark": {"type": "text", "fontSize": 9, "fontStyle": "italic", "align": "left", "baseline": "middle", "color": "#333", "dx": 37.5}, "encoding": {"x": {"datum": 4.1}, "y": {"datum": 0.088}, "text": {"value": "P"}}},
  {"data": {"name": "one"}, "mark": {"type": "text", "fontSize": 9, "align": "left", "baseline": "middle", "color": "#333", "dx": 45}, "encoding": {"x": {"datum": 4.1}, "y": {"datum": 0.088}, "text": {"value": "= 0.005"}}},
  {"data": {"name": "one"}, "mark": {"type": "text", "fontSize": 11, "fontWeight": "bold", "color": "#111", "align": "right", "baseline": "middle"}, "encoding": {"x": {"datum": -2.1}, "y": {"datum": 1}, "text": {"value": "1.0"}}},
  {"data": {"name": "one"}, "mark": {"type": "text", "fontSize": 12.5, "fontWeight": "bold", "color": "#111", "align": "center", "baseline": "middle"}, "encoding": {"x": {"datum": 42.5}, "y": {"datum": 1.056}, "text": {"value": "rs228729"}}},
  {"data": {"name": "one"}, "mark": {"type": "text", "fontSize": 19, "fontWeight": "bold", "color": "#111", "align": "right", "baseline": "middle"}, "encoding": {"x": {"datum": -11}, "y": {"datum": 0.985}, "text": {"value": "C"}}}
 ]},
{"width": 175, "height": 178,
 "layer": [
  {"data": {"name": "D"}, "mark": {"type": "line", "interpolate": "step-after", "strokeWidth": 1.5},
   "encoding": {"x": {"field": "t", "type": "quantitative", "scale": {"domain": [0, 90]}, "axis": {"title": "Months"}},
    "y": {"field": "s", "type": "quantitative", "scale": {"domain": [0, 1.0001], "nice": false}, "axis": {"title": "Overall survival"}},
    "color": {"field": "g", "type": "nominal", "scale": {"domain": ["TG+GG","TT"], "range": ["#f2ee00","#2e3192"]}}}},
  {"data": {"name": "Dc"}, "mark": "tick", "encoding": {"x": {"field": "t", "type": "quantitative"}, "y": {"field": "s", "type": "quantitative"}, "color": {"field": "g", "type": "nominal"}}},
  {"data": {"name": "one"}, "mark": {"type": "rule", "strokeWidth": 1.5}, "encoding": {"x": {"datum": 61}, "x2": {"datum": 70}, "y": {"datum": 0.948}, "color": {"datum": "TG+GG"}}},
  {"data": {"name": "one"}, "mark": {"type": "rule", "strokeWidth": 1.5}, "encoding": {"x": {"datum": 61}, "x2": {"datum": 70}, "y": {"datum": 0.892}, "color": {"datum": "TT"}}},
  {"data": {"name": "one"}, "mark": {"type": "text", "fontSize": 8, "align": "left", "baseline": "middle", "color": "#333"}, "encoding": {"x": {"datum": 71.8}, "y": {"datum": 0.948}, "text": {"value": "TG+GG"}}},
  {"data": {"name": "one"}, "mark": {"type": "text", "fontSize": 8, "align": "left", "baseline": "middle", "color": "#333"}, "encoding": {"x": {"datum": 71.8}, "y": {"datum": 0.892}, "text": {"value": "TT"}}},
  {"data": {"name": "one"}, "mark": {"type": "text", "fontSize": 7.5, "align": "right", "baseline": "middle", "lineHeight": 10, "color": "#333"}, "encoding": {"x": {"datum": 86}, "y": {"datum": 0.71}, "text": {"value": ["n = 62/149", "MST not reached"]}}},
  {"data": {"name": "one"}, "mark": {"type": "text", "fontSize": 7.5, "align": "right", "baseline": "middle", "lineHeight": 10, "color": "#333"}, "encoding": {"x": {"datum": 86}, "y": {"datum": 0.395}, "text": {"value": ["n = 120/176", "MST = 31"]}}},
  {"data": {"name": "one"}, "mark": {"type": "text", "fontSize": 9, "align": "left", "baseline": "middle", "color": "#333"}, "encoding": {"x": {"datum": 4.3}, "y": {"datum": 0.093}, "text": {"value": "Log rank"}}},
  {"data": {"name": "one"}, "mark": {"type": "text", "fontSize": 9, "fontStyle": "italic", "align": "left", "baseline": "middle", "color": "#333", "dx": 37.5}, "encoding": {"x": {"datum": 4.3}, "y": {"datum": 0.093}, "text": {"value": "P"}}},
  {"data": {"name": "one"}, "mark": {"type": "text", "fontSize": 9, "align": "left", "baseline": "middle", "color": "#333", "dx": 45}, "encoding": {"x": {"datum": 4.3}, "y": {"datum": 0.093}, "text": {"value": "= 0.001"}}},
  {"data": {"name": "one"}, "mark": {"type": "text", "fontSize": 11, "fontWeight": "bold", "color": "#111", "align": "right", "baseline": "middle"}, "encoding": {"x": {"datum": -2.1}, "y": {"datum": 1}, "text": {"value": "1.0"}}},
  {"data": {"name": "one"}, "mark": {"type": "text", "fontSize": 19, "fontWeight": "bold", "color": "#111", "align": "right", "baseline": "middle"}, "encoding": {"x": {"datum": -11}, "y": {"datum": 0.985}, "text": {"value": "D"}}},
  {"data": {"name": "one"}, "mark": {"type": "text", "angle": 270, "fontSize": 17, "fontWeight": "bold", "color": "#111", "align": "center", "baseline": "middle"}, "encoding": {"x": {"datum": -22}, "y": {"datum": 0.54}, "text": {"value": "Validation set"}}}
 ]},
{"width": 175, "height": 178,
 "layer": [
  {"data": {"name": "E"}, "mark": {"type": "line", "interpolate": "step-after", "strokeWidth": 1.5},
   "encoding": {"x": {"field": "t", "type": "quantitative", "scale": {"domain": [0, 90]}, "axis": {"title": "Months"}},
    "y": {"field": "s", "type": "quantitative", "scale": {"domain": [0, 1.0001], "nice": false}, "axis": {"title": "Overall survival"}},
    "color": {"field": "g", "type": "nominal", "scale": {"domain": ["AA","AC+CC"], "range": ["#f2ee00","#2e3192"]}}}},
  {"data": {"name": "Ec"}, "mark": "tick", "encoding": {"x": {"field": "t", "type": "quantitative"}, "y": {"field": "s", "type": "quantitative"}, "color": {"field": "g", "type": "nominal"}}},
  {"data": {"name": "one"}, "mark": {"type": "rule", "strokeWidth": 1.5}, "encoding": {"x": {"datum": 60.1}, "x2": {"datum": 68.7}, "y": {"datum": 0.944}, "color": {"datum": "AA"}}},
  {"data": {"name": "one"}, "mark": {"type": "rule", "strokeWidth": 1.5}, "encoding": {"x": {"datum": 60.1}, "x2": {"datum": 68.7}, "y": {"datum": 0.885}, "color": {"datum": "AC+CC"}}},
  {"data": {"name": "one"}, "mark": {"type": "text", "fontSize": 8, "align": "left", "baseline": "middle", "color": "#333"}, "encoding": {"x": {"datum": 73.1}, "y": {"datum": 0.944}, "text": {"value": "AA"}}},
  {"data": {"name": "one"}, "mark": {"type": "text", "fontSize": 8, "align": "left", "baseline": "middle", "color": "#333"}, "encoding": {"x": {"datum": 73.1}, "y": {"datum": 0.885}, "text": {"value": "AC+CC"}}},
  {"data": {"name": "one"}, "mark": {"type": "text", "fontSize": 7.5, "align": "right", "baseline": "middle", "lineHeight": 10, "color": "#333"}, "encoding": {"x": {"datum": 88.3}, "y": {"datum": 0.641}, "text": {"value": ["n = 73/163", "MST not reached"]}}},
  {"data": {"name": "one"}, "mark": {"type": "text", "fontSize": 7.5, "align": "right", "baseline": "middle", "lineHeight": 10, "color": "#333"}, "encoding": {"x": {"datum": 88.3}, "y": {"datum": 0.398}, "text": {"value": ["n = 108/162", "MST = 39"]}}},
  {"data": {"name": "one"}, "mark": {"type": "text", "fontSize": 9, "align": "left", "baseline": "middle", "color": "#333"}, "encoding": {"x": {"datum": 4}, "y": {"datum": 0.084}, "text": {"value": "Log rank"}}},
  {"data": {"name": "one"}, "mark": {"type": "text", "fontSize": 9, "fontStyle": "italic", "align": "left", "baseline": "middle", "color": "#333", "dx": 37.5}, "encoding": {"x": {"datum": 4}, "y": {"datum": 0.084}, "text": {"value": "P"}}},
  {"data": {"name": "one"}, "mark": {"type": "text", "fontSize": 9, "align": "left", "baseline": "middle", "color": "#333", "dx": 45}, "encoding": {"x": {"datum": 4}, "y": {"datum": 0.084}, "text": {"value": "= 0.004"}}},
  {"data": {"name": "one"}, "mark": {"type": "text", "fontSize": 11, "fontWeight": "bold", "color": "#111", "align": "right", "baseline": "middle"}, "encoding": {"x": {"datum": -2.1}, "y": {"datum": 1}, "text": {"value": "1.0"}}},
  {"data": {"name": "one"}, "mark": {"type": "text", "fontSize": 19, "fontWeight": "bold", "color": "#111", "align": "right", "baseline": "middle"}, "encoding": {"x": {"datum": -11}, "y": {"datum": 0.985}, "text": {"value": "E"}}}
 ]},
{"width": 175, "height": 178,
 "layer": [
  {"data": {"name": "F"}, "mark": {"type": "line", "interpolate": "step-after", "strokeWidth": 1.5},
   "encoding": {"x": {"field": "t", "type": "quantitative", "scale": {"domain": [0, 90]}, "axis": {"title": "Months"}},
    "y": {"field": "s", "type": "quantitative", "scale": {"domain": [0, 1.0001], "nice": false}, "axis": {"title": "Overall survival"}},
    "color": {"field": "g", "type": "nominal", "scale": {"domain": ["GG+GA","AA"], "range": ["#f2ee00","#2e3192"]}}}},
  {"data": {"name": "Fc"}, "mark": "tick", "encoding": {"x": {"field": "t", "type": "quantitative"}, "y": {"field": "s", "type": "quantitative"}, "color": {"field": "g", "type": "nominal"}}},
  {"data": {"name": "one"}, "mark": {"type": "rule", "strokeWidth": 1.5}, "encoding": {"x": {"datum": 58.1}, "x2": {"datum": 66.7}, "y": {"datum": 0.929}, "color": {"datum": "GG+GA"}}},
  {"data": {"name": "one"}, "mark": {"type": "rule", "strokeWidth": 1.5}, "encoding": {"x": {"datum": 58.1}, "x2": {"datum": 66.7}, "y": {"datum": 0.874}, "color": {"datum": "AA"}}},
  {"data": {"name": "one"}, "mark": {"type": "text", "fontSize": 8, "align": "left", "baseline": "middle", "color": "#333"}, "encoding": {"x": {"datum": 71}, "y": {"datum": 0.929}, "text": {"value": "GG+GA"}}},
  {"data": {"name": "one"}, "mark": {"type": "text", "fontSize": 8, "align": "left", "baseline": "middle", "color": "#333"}, "encoding": {"x": {"datum": 71}, "y": {"datum": 0.874}, "text": {"value": "AA"}}},
  {"data": {"name": "one"}, "mark": {"type": "text", "fontSize": 7.5, "align": "right", "baseline": "middle", "lineHeight": 10, "color": "#333"}, "encoding": {"x": {"datum": 87.8}, "y": {"datum": 0.567}, "text": {"value": ["n = 166/304", "MST = 49"]}}},
  {"data": {"name": "one"}, "mark": {"type": "text", "fontSize": 7.5, "align": "right", "baseline": "middle", "lineHeight": 10, "color": "#333"}, "encoding": {"x": {"datum": 87.8}, "y": {"datum": 0.305}, "text": {"value": ["n = 15/20", "MST = 34"]}}},
  {"data": {"name": "one"}, "mark": {"type": "text", "fontSize": 9, "align": "left", "baseline": "middle", "color": "#333"}, "encoding": {"x": {"datum": 4.1}, "y": {"datum": 0.093}, "text": {"value": "Log rank"}}},
  {"data": {"name": "one"}, "mark": {"type": "text", "fontSize": 9, "fontStyle": "italic", "align": "left", "baseline": "middle", "color": "#333", "dx": 37.5}, "encoding": {"x": {"datum": 4.1}, "y": {"datum": 0.093}, "text": {"value": "P"}}},
  {"data": {"name": "one"}, "mark": {"type": "text", "fontSize": 9, "align": "left", "baseline": "middle", "color": "#333", "dx": 45}, "encoding": {"x": {"datum": 4.1}, "y": {"datum": 0.093}, "text": {"value": "= 0.082"}}},
  {"data": {"name": "one"}, "mark": {"type": "text", "fontSize": 11, "fontWeight": "bold", "color": "#111", "align": "right", "baseline": "middle"}, "encoding": {"x": {"datum": -2.1}, "y": {"datum": 1}, "text": {"value": "1.0"}}},
  {"data": {"name": "one"}, "mark": {"type": "text", "fontSize": 19, "fontWeight": "bold", "color": "#111", "align": "right", "baseline": "middle"}, "encoding": {"x": {"datum": -11}, "y": {"datum": 0.985}, "text": {"value": "F"}}}
 ]},
{"width": 175, "height": 178,
 "layer": [
  {"data": {"name": "G"}, "mark": {"type": "line", "interpolate": "step-after", "strokeWidth": 1.5},
   "encoding": {"x": {"field": "t", "type": "quantitative", "scale": {"domain": [0, 90]}, "axis": {"title": "Months"}},
    "y": {"field": "s", "type": "quantitative", "scale": {"domain": [0, 1.0001], "nice": false}, "axis": {"title": "Overall survival"}},
    "color": {"field": "g", "type": "nominal", "scale": {"domain": ["TG+GG","TT"], "range": ["#f2ee00","#2e3192"]}}}},
  {"data": {"name": "Gc"}, "mark": "tick", "encoding": {"x": {"field": "t", "type": "quantitative"}, "y": {"field": "s", "type": "quantitative"}, "color": {"field": "g", "type": "nominal"}}},
  {"data": {"name": "one"}, "mark": {"type": "rule", "strokeWidth": 1.5}, "encoding": {"x": {"datum": 60.1}, "x2": {"datum": 69}, "y": {"datum": 0.954}, "color": {"datum": "TG+GG"}}},
  {"data": {"name": "one"}, "mark": {"type": "rule", "strokeWidth": 1.5}, "encoding": {"x": {"datum": 60.1}, "x2": {"datum": 69}, "y": {"datum": 0.898}, "color": {"datum": "TT"}}},
  {"data": {"name": "one"}, "mark": {"type": "text", "fontSize": 8, "align": "left", "baseline": "middle", "color": "#333"}, "encoding": {"x": {"datum": 70.6}, "y": {"datum": 0.954}, "text": {"value": "TG+GG"}}},
  {"data": {"name": "one"}, "mark": {"type": "text", "fontSize": 8, "align": "left", "baseline": "middle", "color": "#333"}, "encoding": {"x": {"datum": 70.6}, "y": {"datum": 0.898}, "text": {"value": "TT"}}},
  {"data": {"name": "one"}, "mark": {"type": "text", "fontSize": 7.5, "align": "right", "baseline": "middle", "lineHeight": 10, "color": "#333"}, "encoding": {"x": {"datum": 86.3}, "y": {"datum": 0.69}, "text": {"value": ["n = 173/471", "MST not reached"]}}},
  {"data": {"name": "one"}, "mark": {"type": "text", "fontSize": 7.5, "align": "right", "baseline": "middle", "lineHeight": 10, "color": "#333"}, "encoding": {"x": {"datum": 86.3}, "y": {"datum": 0.444}, "text": {"value": ["n = 308/555", "MST = 40"]}}},
  {"data": {"name": "one"}, "mark": {"type": "text", "fontSize": 9, "align": "left", "baseline": "middle", "color": "#333"}, "encoding": {"x": {"datum": 4.3}, "y": {"datum": 0.093}, "text": {"value": "Log rank"}}},
  {"data": {"name": "one"}, "mark": {"type": "text", "fontSize": 9, "fontStyle": "italic", "align": "left", "baseline": "middle", "color": "#333", "dx": 37.5}, "encoding": {"x": {"datum": 4.3}, "y": {"datum": 0.093}, "text": {"value": "P"}}},
  {"data": {"name": "one"}, "mark": {"type": "text", "fontSize": 9, "align": "left", "baseline": "middle", "color": "#333", "dx": 45}, "encoding": {"x": {"datum": 4.3}, "y": {"datum": 0.093}, "text": {"value": "< 0.001"}}},
  {"data": {"name": "one"}, "mark": {"type": "text", "fontSize": 11, "fontWeight": "bold", "color": "#111", "align": "right", "baseline": "middle"}, "encoding": {"x": {"datum": -2.1}, "y": {"datum": 1}, "text": {"value": "1.0"}}},
  {"data": {"name": "one"}, "mark": {"type": "text", "fontSize": 19, "fontWeight": "bold", "color": "#111", "align": "right", "baseline": "middle"}, "encoding": {"x": {"datum": -11}, "y": {"datum": 0.985}, "text": {"value": "G"}}},
  {"data": {"name": "one"}, "mark": {"type": "text", "angle": 270, "fontSize": 17, "fontWeight": "bold", "color": "#111", "align": "center", "baseline": "middle"}, "encoding": {"x": {"datum": -22}, "y": {"datum": 0.45}, "text": {"value": "Pooled analysis"}}}
 ]},
{"width": 175, "height": 178,
 "layer": [
  {"data": {"name": "H"}, "mark": {"type": "line", "interpolate": "step-after", "strokeWidth": 1.5},
   "encoding": {"x": {"field": "t", "type": "quantitative", "scale": {"domain": [0, 90]}, "axis": {"title": "Months"}},
    "y": {"field": "s", "type": "quantitative", "scale": {"domain": [0, 1.0001], "nice": false}, "axis": {"title": "Overall survival"}},
    "color": {"field": "g", "type": "nominal", "scale": {"domain": ["AA","AC+CC"], "range": ["#f2ee00","#2e3192"]}}}},
  {"data": {"name": "Hc"}, "mark": "tick", "encoding": {"x": {"field": "t", "type": "quantitative"}, "y": {"field": "s", "type": "quantitative"}, "color": {"field": "g", "type": "nominal"}}},
  {"data": {"name": "one"}, "mark": {"type": "rule", "strokeWidth": 1.5}, "encoding": {"x": {"datum": 60.1}, "x2": {"datum": 68.7}, "y": {"datum": 0.944}, "color": {"datum": "AA"}}},
  {"data": {"name": "one"}, "mark": {"type": "rule", "strokeWidth": 1.5}, "encoding": {"x": {"datum": 60.1}, "x2": {"datum": 68.7}, "y": {"datum": 0.885}, "color": {"datum": "AC+CC"}}},
  {"data": {"name": "one"}, "mark": {"type": "text", "fontSize": 8, "align": "left", "baseline": "middle", "color": "#333"}, "encoding": {"x": {"datum": 73.1}, "y": {"datum": 0.944}, "text": {"value": "AA"}}},
  {"data": {"name": "one"}, "mark": {"type": "text", "fontSize": 8, "align": "left", "baseline": "middle", "color": "#333"}, "encoding": {"x": {"datum": 73.1}, "y": {"datum": 0.885}, "text": {"value": "AC+CC"}}},
  {"data": {"name": "one"}, "mark": {"type": "text", "fontSize": 7.5, "align": "right", "baseline": "middle", "lineHeight": 10, "color": "#333"}, "encoding": {"x": {"datum": 87.4}, "y": {"datum": 0.69}, "text": {"value": ["n = 194/515", "MST not reached"]}}},
  {"data": {"name": "one"}, "mark": {"type": "text", "fontSize": 7.5, "align": "right", "baseline": "middle", "lineHeight": 10, "color": "#333"}, "encoding": {"x": {"datum": 87.4}, "y": {"datum": 0.428}, "text": {"value": ["n = 284/510", "MST = 44"]}}},
  {"data": {"name": "one"}, "mark": {"type": "text", "fontSize": 9, "align": "left", "baseline": "middle", "color": "#333"}, "encoding": {"x": {"datum": 4}, "y": {"datum": 0.084}, "text": {"value": "Log rank"}}},
  {"data": {"name": "one"}, "mark": {"type": "text", "fontSize": 9, "fontStyle": "italic", "align": "left", "baseline": "middle", "color": "#333", "dx": 37.5}, "encoding": {"x": {"datum": 4}, "y": {"datum": 0.084}, "text": {"value": "P"}}},
  {"data": {"name": "one"}, "mark": {"type": "text", "fontSize": 9, "align": "left", "baseline": "middle", "color": "#333", "dx": 45}, "encoding": {"x": {"datum": 4}, "y": {"datum": 0.084}, "text": {"value": "< 0.001"}}},
  {"data": {"name": "one"}, "mark": {"type": "text", "fontSize": 11, "fontWeight": "bold", "color": "#111", "align": "right", "baseline": "middle"}, "encoding": {"x": {"datum": -2.1}, "y": {"datum": 1}, "text": {"value": "1.0"}}},
  {"data": {"name": "one"}, "mark": {"type": "text", "fontSize": 19, "fontWeight": "bold", "color": "#111", "align": "right", "baseline": "middle"}, "encoding": {"x": {"datum": -11}, "y": {"datum": 0.985}, "text": {"value": "H"}}}
 ]},
{"width": 175, "height": 178,
 "layer": [
  {"data": {"name": "I"}, "mark": {"type": "line", "interpolate": "step-after", "strokeWidth": 1.5},
   "encoding": {"x": {"field": "t", "type": "quantitative", "scale": {"domain": [0, 90]}, "axis": {"title": "Months"}},
    "y": {"field": "s", "type": "quantitative", "scale": {"domain": [0, 1.0001], "nice": false}, "axis": {"title": "Overall survival"}},
    "color": {"field": "g", "type": "nominal", "scale": {"domain": ["GG+GA","AA"], "range": ["#f2ee00","#2e3192"]}}}},
  {"data": {"name": "Ic"}, "mark": "tick", "encoding": {"x": {"field": "t", "type": "quantitative"}, "y": {"field": "s", "type": "quantitative"}, "color": {"field": "g", "type": "nominal"}}},
  {"data": {"name": "one"}, "mark": {"type": "rule", "strokeWidth": 1.5}, "encoding": {"x": {"datum": 58.2}, "x2": {"datum": 66.8}, "y": {"datum": 0.929}, "color": {"datum": "GG+GA"}}},
  {"data": {"name": "one"}, "mark": {"type": "rule", "strokeWidth": 1.5}, "encoding": {"x": {"datum": 58.2}, "x2": {"datum": 66.8}, "y": {"datum": 0.874}, "color": {"datum": "AA"}}},
  {"data": {"name": "one"}, "mark": {"type": "text", "fontSize": 8, "align": "left", "baseline": "middle", "color": "#333"}, "encoding": {"x": {"datum": 71.1}, "y": {"datum": 0.929}, "text": {"value": "GG+GA"}}},
  {"data": {"name": "one"}, "mark": {"type": "text", "fontSize": 8, "align": "left", "baseline": "middle", "color": "#333"}, "encoding": {"x": {"datum": 71.1}, "y": {"datum": 0.874}, "text": {"value": "AA"}}},
  {"data": {"name": "one"}, "mark": {"type": "text", "fontSize": 7.5, "align": "right", "baseline": "middle", "lineHeight": 10, "color": "#333"}, "encoding": {"x": {"datum": 87.4}, "y": {"datum": 0.586}, "text": {"value": ["n = 432/963", "MST = 59"]}}},
  {"data": {"name": "one"}, "mark": {"type": "text", "fontSize": 7.5, "align": "right", "baseline": "middle", "lineHeight": 10, "color": "#333"}, "encoding": {"x": {"datum": 87.4}, "y": {"datum": 0.279}, "text": {"value": ["n = 49/61", "MST = 33"]}}},
  {"data": {"name": "one"}, "mark": {"type": "text", "fontSize": 9, "align": "left", "baseline": "middle", "color": "#333"}, "encoding": {"x": {"datum": 4}, "y": {"datum": 0.093}, "text": {"value": "Log rank"}}},
  {"data": {"name": "one"}, "mark": {"type": "text", "fontSize": 9, "fontStyle": "italic", "align": "left", "baseline": "middle", "color": "#333", "dx": 37.5}, "encoding": {"x": {"datum": 4}, "y": {"datum": 0.093}, "text": {"value": "P"}}},
  {"data": {"name": "one"}, "mark": {"type": "text", "fontSize": 9, "align": "left", "baseline": "middle", "color": "#333", "dx": 45}, "encoding": {"x": {"datum": 4}, "y": {"datum": 0.093}, "text": {"value": "= 0.008"}}},
  {"data": {"name": "one"}, "mark": {"type": "text", "fontSize": 11, "fontWeight": "bold", "color": "#111", "align": "right", "baseline": "middle"}, "encoding": {"x": {"datum": -2.1}, "y": {"datum": 1}, "text": {"value": "1.0"}}},
  {"data": {"name": "one"}, "mark": {"type": "text", "fontSize": 19, "fontWeight": "bold", "color": "#111", "align": "right", "baseline": "middle"}, "encoding": {"x": {"datum": -11}, "y": {"datum": 0.985}, "text": {"value": "I"}}}
 ]}
]
}
